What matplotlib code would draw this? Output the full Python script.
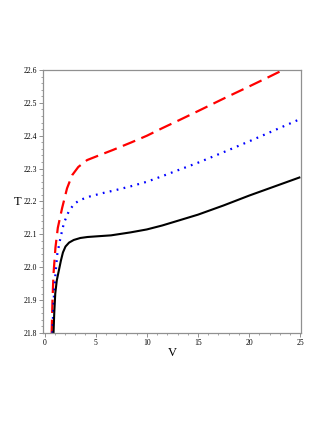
import matplotlib
matplotlib.use("Agg")
import matplotlib.pyplot as plt
from matplotlib.ticker import MultipleLocator, FormatStrFormatter

black_V = [0.88, 0.95, 1.05, 1.2, 1.4, 1.6, 1.8, 2.05, 2.4, 2.86, 3.5, 4.2, 5.1, 6.5, 8.4, 10, 11.5, 13.2, 15, 17.5, 20, 22.5, 25]
black_T = [21.80, 21.86, 21.92, 21.96, 21.99, 22.02, 22.045, 22.063, 22.075, 22.083, 22.089, 22.092, 22.094, 22.097, 22.106, 22.115, 22.127, 22.143, 22.16, 22.188, 22.218, 22.246, 22.274]

blue_V = [0.78, 0.85, 0.95, 1.07, 1.25, 1.56, 1.9, 2.37, 2.9, 3.5, 4.5, 5.75, 7, 8.4, 10, 11.5, 13.2, 15, 17.5, 20, 22.5, 25]
blue_T = [21.80, 21.87, 21.93, 21.98, 22.04, 22.09, 22.135, 22.17, 22.193, 22.205, 22.216, 22.226, 22.235, 22.246, 22.26, 22.277, 22.297, 22.318, 22.35, 22.383, 22.417, 22.451]

red_V = [0.7, 0.78, 0.88, 1.07, 1.3, 1.72, 2.2, 2.7, 3.3, 4.16, 5.3, 6.7, 8.5, 10, 11.5, 13.2, 15, 17.5, 20, 22, 23.3]
red_T = [21.80, 21.90, 21.98, 22.06, 22.12, 22.18, 22.24, 22.28, 22.305, 22.326, 22.34, 22.357, 22.38, 22.40, 22.423, 22.448, 22.475, 22.513, 22.55, 22.58, 22.60]

x_ticks = [0, 5, 10, 15, 20, 25]
y_ticks = [21.8, 21.9, 22.0, 22.1, 22.2, 22.3, 22.4, 22.5, 22.6]

plt.rcParams['font.family'] = ['Liberation Serif', 'DejaVu Serif']

fig = plt.figure(figsize=(3.27, 4.23), dpi=100)
ax = fig.add_axes([0.133, 0.2128, 0.787, 0.6217])

ax.plot(red_V, red_T, color='#ff0000', lw=1.6, dashes=(6, 3))
ax.plot(blue_V, blue_T, color='#0000ff', lw=1.6, linestyle=(0, (0.8, 2.4)))
ax.plot(black_V, black_T, color='black', lw=1.5, solid_capstyle='butt')

ax.set_xlim(-0.1, 25.05)
ax.set_ylim(21.8, 22.6)
ax.set_xticks(x_ticks)
ax.set_yticks(y_ticks)
ax.xaxis.set_minor_locator(MultipleLocator(1))
ax.yaxis.set_minor_locator(MultipleLocator(0.02))
ax.yaxis.set_major_formatter(FormatStrFormatter('%.1f'))
ax.tick_params(axis='both', which='major', labelsize=5.5, length=3, width=0.6, color='#808080', pad=1.5)
ax.tick_params(axis='both', which='minor', length=1.5, width=0.5, color='#808080')
for s in ax.spines.values():
    s.set_color('#909090')
    s.set_linewidth(0.9)

ax.set_xlabel('V', fontsize=9, va='center')
ax.set_ylabel('T', fontsize=9, rotation=0, va='center', ha='center')
ax.xaxis.set_label_coords(0.502, -0.076)
ax.yaxis.set_label_coords(-0.099, 0.499)

fig.savefig('out.png', dpi=100)
